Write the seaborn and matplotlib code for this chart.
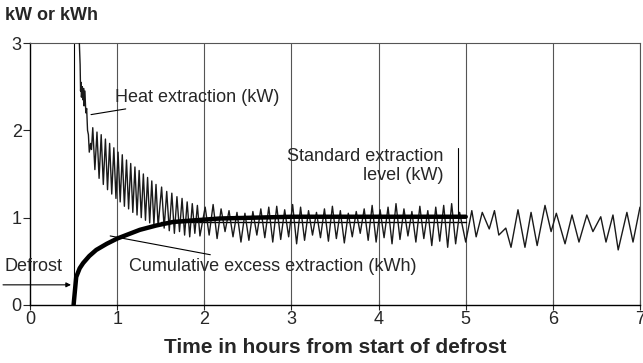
import numpy as np
import pandas as pd
import matplotlib.pyplot as plt
import seaborn as sns

# heat extraction right after defrost ends (hours, kW)
drop_t = [0.555, 0.575, 0.58, 0.585, 0.59, 0.60, 0.605, 0.615, 0.62, 0.63,
          0.64, 0.65, 0.66, 0.67, 0.68, 0.695, 0.705]
drop_kw = [3.30, 2.75, 2.45, 2.55, 2.38, 2.50, 2.35, 2.48, 2.28, 2.45,
           2.20, 2.25, 2.00, 1.95, 1.75, 1.85, 1.78]

fast_span = (0.72, 1.47)
fast_peaks = [2.03, 1.98, 1.95, 1.90, 1.85, 1.80, 1.75, 1.72,
              1.66, 1.62, 1.58, 1.54, 1.50, 1.46, 1.42, 1.38]
fast_troughs = [1.55, 1.45, 1.38, 1.32, 1.27, 1.22, 1.18, 1.13,
                1.10, 1.06, 1.03, 1.00, 0.97, 0.94, 0.92, 0.90]

mid_span = (1.51, 1.95)
mid_peaks = [1.35, 1.30, 1.28, 1.24, 1.22, 1.18, 1.16, 1.14]
mid_troughs = [0.88, 0.85, 0.82, 0.84, 0.80, 0.78, 0.82, 0.79]

steady_span = (2.01, 4.93)
steady_peaks = [1.12, 1.15, 1.10, 1.08, 1.06, 1.05, 1.07, 1.10, 1.12, 1.13, 1.09,
                1.15, 1.12, 1.08, 1.06, 1.10, 1.13, 1.08, 1.05, 1.07, 1.10, 1.14,
                1.09, 1.12, 1.16, 1.10, 1.07, 1.13, 1.08, 1.12, 1.14, 1.16, 1.06]
steady_troughs = [0.80, 0.76, 0.84, 0.78, 0.72, 0.74, 0.80, 0.77, 0.72, 0.75, 0.78,
                  0.70, 0.74, 0.80, 0.77, 0.73, 0.76, 0.71, 0.78, 0.82, 0.74, 0.72,
                  0.77, 0.70, 0.75, 0.79, 0.72, 0.76, 0.68, 0.73, 0.66, 0.70]

# after the standard period the cycles get longer
late_t = [5.00, 5.07, 5.12, 5.19, 5.27, 5.33, 5.38, 5.46, 5.52, 5.60, 5.68, 5.75,
          5.82, 5.91, 5.98, 6.04, 6.14, 6.22, 6.30, 6.39, 6.46, 6.55, 6.61, 6.69,
          6.75, 6.85, 6.92, 7.00]
late_kw = [0.72, 1.08, 0.78, 1.06, 0.87, 1.08, 0.80, 0.88, 0.66, 1.09, 0.66, 1.06,
           0.68, 1.14, 0.84, 1.05, 0.70, 1.03, 0.72, 1.03, 0.84, 1.01, 0.72, 1.03,
           0.63, 1.06, 0.72, 1.12]

# cumulative excess extraction (kWh)
cum_t = [0.50, 0.53, 0.57, 0.61, 0.68, 0.76, 0.88, 1.00, 1.13, 1.26, 1.45,
         1.64, 1.90, 2.18, 2.6, 3.0, 3.5, 4.0, 4.5, 5.0]
cum_kwh = [0.00, 0.32, 0.42, 0.48, 0.56, 0.63, 0.70, 0.76, 0.81, 0.86, 0.91,
           0.95, 0.97, 0.99, 1.00, 1.01, 1.01, 1.01, 1.01, 1.01]

std_t = [1.5, 5.0]
std_kw = [0.95, 0.95]

defrost_end = 0.5
hour_ticks = [0, 1, 2, 3, 4, 5, 6, 7]
kw_ticks = [0, 1, 2, 3]


def cycles(span, peaks, troughs):
    # alternate peak / trough over the stretch
    vals = []
    for i, p in enumerate(peaks):
        vals.append(p)
        if i < len(troughs):
            vals.append(troughs[i])
    t = np.linspace(span[0], span[1], len(vals))
    return list(t), vals


t_all, kw_all = list(drop_t), list(drop_kw)
for span, pk, tr in [(fast_span, fast_peaks, fast_troughs),
                     (mid_span, mid_peaks, mid_troughs),
                     (steady_span, steady_peaks, steady_troughs)]:
    t, v = cycles(span, pk, tr)
    t_all += t
    kw_all += v
t_all += late_t
kw_all += late_kw

heat = pd.DataFrame({"hours": t_all, "kw": kw_all})
cum = pd.DataFrame({"hours": cum_t, "kwh": cum_kwh})
std = pd.DataFrame({"hours": std_t, "kw": std_kw})

sns.set_style("white")
plt.rcParams["font.family"] = ["Liberation Sans", "DejaVu Sans"]

fig = plt.figure(figsize=(6.43, 3.63), dpi=100)
ax = fig.add_axes([0.0467, 0.16, 0.9486, 0.7215])

for h in hour_ticks[1:]:
    ax.axvline(h, color="#555555", lw=0.8, zorder=1)
ax.axvline(defrost_end, color="black", lw=0.8, zorder=1)

sns.lineplot(data=std, x="hours", y="kw", color="black", lw=1.0, ax=ax, zorder=2)
sns.lineplot(data=heat, x="hours", y="kw", color="#1a1a1a", lw=1.0, sort=False,
             estimator=None, ax=ax, zorder=3)
sns.lineplot(data=cum, x="hours", y="kwh", color="black", lw=3.2, sort=False,
             estimator=None, ax=ax, zorder=4)

ax.set_xlim(0, 7)
ax.set_ylim(0, 3)
ax.set_xticks(hour_ticks)
ax.set_yticks(kw_ticks)
ax.tick_params(axis="x", direction="inout", length=7, width=0.8, labelsize=13, pad=1)
ax.tick_params(axis="y", direction="out", length=5, width=0.8, labelsize=13, pad=1)
ax.tick_params(bottom=True, left=True)
for s in ["left", "bottom"]:
    ax.spines[s].set_color("black")
    ax.spines[s].set_linewidth(1.0)
for s in ["top", "right"]:
    ax.spines[s].set_color("#555555")
    ax.spines[s].set_linewidth(0.8)

ax.set_xlabel("Time in hours from start of defrost", fontsize=15,
              fontweight="bold", labelpad=7)
ax.set_ylabel("")
fig.text(0.008, 0.958, "kW or kWh", fontsize=13, fontweight="bold", va="center")

arrow = dict(arrowstyle="-", color="black", lw=0.8, shrinkA=0, shrinkB=0)
ax.annotate("Heat extraction (kW)", xy=(0.70, 2.18), xytext=(0.98, 2.38),
            fontsize=13, va="center", ha="left", arrowprops=arrow)
ax.annotate("Cumulative excess extraction (kWh)", xy=(0.92, 0.79),
            xytext=(1.14, 0.44), fontsize=13, va="center", ha="left",
            arrowprops=arrow)
ax.text(4.74, 1.59, "Standard extraction\nlevel (kW)", fontsize=13,
        ha="right", va="center", linespacing=1.1)
ax.plot([4.91, 4.91], [1.0, 1.80], color="black", lw=0.8, zorder=5)

ax.text(-0.29, 0.44, "Defrost", fontsize=13, ha="left", va="center")
ax.annotate("", xy=(0.47, 0.23), xytext=(-0.31, 0.23), annotation_clip=False,
            arrowprops=dict(arrowstyle="-|>", color="black", lw=0.8,
                            mutation_scale=7, shrinkA=0, shrinkB=0))

fig.savefig("out.png", dpi=100)
